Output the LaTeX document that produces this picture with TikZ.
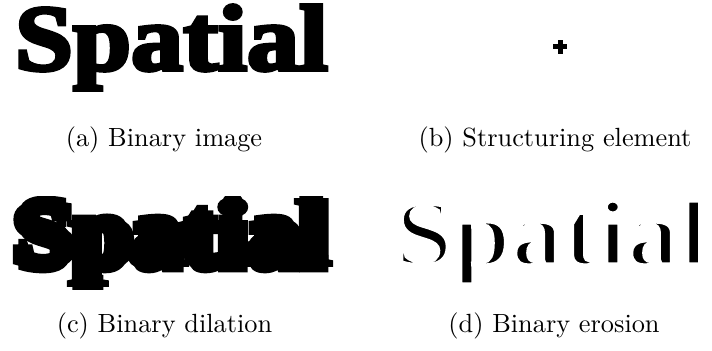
\documentclass[tikz,border=0pt]{standalone}
\usepackage{fontspec}
\usepackage{graphicx}
% heavy serif for the bitmap word, thickened by an outline stroke
\newfontfamily\basefont{Liberation Serif Bold}[FakeBold=4]
% plain face, stroked in white to eat into the glyphs
\newfontfamily\erodefont{Liberation Serif Bold}[FakeBold=5.5]
% fit the word into its frame (total height incl. descender)
\newcommand\fitword[1]{\resizebox*{119pt}{32.3pt}{\fontsize{40}{40}#1\selectfont Spatial}}
\begin{document}
\begin{tikzpicture}[x=0.38pt,y=-0.38pt,
  img/.style={inner sep=0pt, outer sep=0pt, anchor=north west},
  captxt/.style={anchor=base, inner sep=0pt, font=\fontsize{10}{12}\selectfont}]
\useasboundingbox (0,0) rectangle (712,351);

% (a) binary image
\node[img] (orig) at (15,5) {\fitword{\basefont}};
\node[captxt] (capa) at (164,147) {(a) Binary image};

% (b) cross-shaped structuring element
\fill (557.5,40) rectangle (562.5,54);
\fill (553,44.5) rectangle (567,49.5);
\node[captxt] (capb) at (555,147) {(b) Structuring element};

% (c) dilation: union of the word shifted along the cross
\begin{scope}
  \clip (12,197) rectangle (333,290);
  \node[img] (dil0) at (15,200) {\fitword{\basefont}};
  \node[img] (dil1) at (20.5,200) {\fitword{\basefont}};
  \node[img] (dil2) at (9.5,200)  {\fitword{\basefont}};
  \node[img] (dil3) at (15,205.5) {\fitword{\basefont}};
  \node[img] (dil4) at (15,194.5) {\fitword{\basefont}};
\end{scope}
\node[captxt] (capc) at (164.5,333) {(c) Binary dilation};

% (d) erosion: black fill, white outline stroke eats into the glyphs
\node[img] (ero) at (395,200)
  {\special{pdf:bcolor [0] [1]}\fitword{\erodefont}\special{pdf:ecolor}};
\node[captxt] (capd) at (554,333) {(d) Binary erosion};
\end{tikzpicture}
\end{document}
